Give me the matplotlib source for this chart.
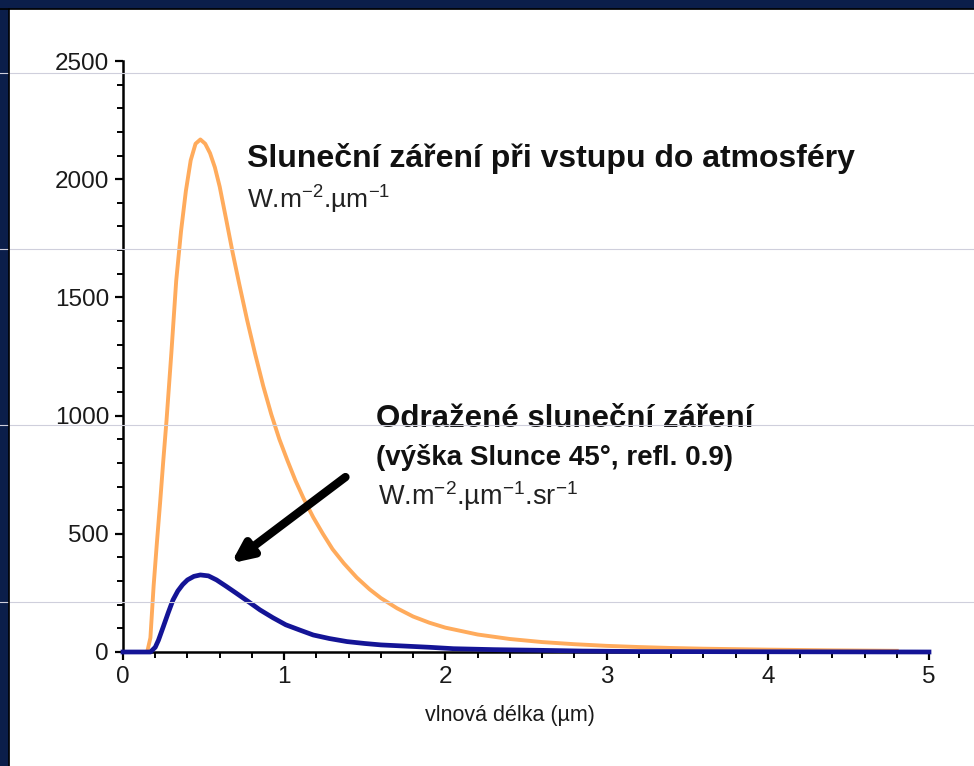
import numpy as np
import matplotlib.pyplot as plt
from matplotlib.lines import Line2D

plt.rcParams['font.family'] = ['Liberation Sans', 'DejaVu Sans']
plt.rcParams['mathtext.fontset'] = 'custom'
plt.rcParams['mathtext.rm'] = 'Liberation Sans'

# solar irradiance at top of atmosphere (W.m-2.um-1)
wl_sun = [0, 0.15, 0.17, 0.19, 0.21, 0.23, 0.25, 0.27, 0.30, 0.33, 0.36, 0.39,
          0.42, 0.45, 0.48, 0.51, 0.54, 0.57, 0.60, 0.64, 0.68, 0.72, 0.77,
          0.82, 0.87, 0.92, 0.97, 1.02, 1.07, 1.12, 1.18, 1.24, 1.3, 1.37,
          1.45, 1.53, 1.6, 1.7, 1.8, 1.9, 2.0, 2.2, 2.4, 2.6, 2.8, 3.0, 3.2,
          3.4, 3.6, 4.0, 4.4, 4.8]
irr_sun = [0, 0, 60, 280, 460, 630, 810, 980, 1265, 1570, 1780, 1950,
           2080, 2150, 2168, 2150, 2110, 2050, 1968, 1830, 1690, 1560, 1404,
           1260, 1125, 1005, 900, 810, 725, 650, 570, 500, 435, 375,
           315, 265, 228, 185, 150, 124, 103, 74, 55, 42, 33, 26, 21,
           17, 14, 10, 7, 5]

# reflected solar radiance (W.m-2.um-1.sr-1)
wl_refl = [0, 0.17, 0.2, 0.22, 0.25, 0.28, 0.31, 0.34, 0.37, 0.40, 0.44, 0.48,
           0.53, 0.58, 0.64, 0.7, 0.78, 0.85, 0.93, 1.01, 1.1, 1.18, 1.28,
           1.39, 1.5, 1.6, 1.75, 1.9, 2.05, 2.3, 2.6, 2.85, 3.2, 4.0, 5.0]
rad_refl = [0, 0, 20, 50, 107, 165, 220, 258, 285, 305, 320, 326,
            322, 305, 278, 250, 212, 178, 145, 115, 92, 72, 57,
            44, 36, 30, 25, 20, 14, 10, 7, 4, 2, 1, 0]

fig = plt.figure(figsize=(9.74, 7.66), dpi=100)

# slide frame: navy border top and left, faint guide lines
fig.patches.append(plt.Rectangle((0, 1 - 8 / 766), 1, 8 / 766, transform=fig.transFigure,
                                 color='#0b1e4a', zorder=0))
fig.patches.append(plt.Rectangle((0, 0), 8 / 974, 1, transform=fig.transFigure,
                                 color='#0b1e4a', zorder=0))
fig.lines.append(Line2D([0, 1], [1 - 9 / 766] * 2, transform=fig.transFigure, color='black', lw=1.2))
fig.lines.append(Line2D([9 / 974] * 2, [0, 1 - 9 / 766], transform=fig.transFigure, color='black', lw=1.2))
for yy in [73, 249, 425, 602]:
    fig.lines.append(Line2D([0, 1], [1 - yy / 766] * 2, transform=fig.transFigure,
                            color='#cfcfdc', lw=0.8, zorder=0.5))

ax = fig.add_axes([123 / 974, 1 - 652 / 766, (929 - 123) / 974, (652 - 61) / 766])
ax.patch.set_alpha(0)

ax.plot(wl_sun, irr_sun, color='#ffab5c', lw=2.8, clip_on=False, zorder=3,
        solid_joinstyle='round')
ax.plot(wl_refl, rad_refl, color='#141496', lw=3.4, clip_on=False, zorder=4,
        solid_joinstyle='round')

ax.set_xlim(0, 5)
ax.set_ylim(0, 2500)
ax.set_xticks(np.arange(0, 6, 1))
ax.set_xticks(np.arange(0, 5.01, 0.2), minor=True)
ax.set_yticks(np.arange(0, 2501, 500))
ax.set_yticks(np.arange(0, 2501, 100), minor=True)
for s in ['top', 'right']:
    ax.spines[s].set_visible(False)
for s in ['left', 'bottom']:
    ax.spines[s].set_linewidth(1.8)
ax.tick_params(which='major', direction='out', length=6, width=1.6, labelsize=17.5,
               pad=4, labelcolor='#1a1a1a')
ax.tick_params(which='minor', direction='out', length=4, width=1.4)
ax.set_xlabel('vlnová délka (µm)', fontsize=15.5, labelpad=12, x=0.48, color='#1a1a1a')

ax.text(0.77, 2050, 'Sluneční záření při vstupu do atmosféry', fontsize=23,
        fontweight='bold', color='#111111', va='baseline')
ax.text(0.77, 1880, r'W.m$^{\mathregular{-2}}$.µm$^{\mathregular{-1}}$', fontsize=19,
        color='#222222', va='baseline')
ax.text(1.57, 950, 'Odražené sluneční záření', fontsize=22.5,
        fontweight='bold', color='#111111', va='baseline')
ax.text(1.57, 790, '(výška Slunce 45°, refl. 0.9)', fontsize=20,
        fontweight='bold', color='#111111', va='baseline')
ax.text(1.58, 620, r'W.m$^{\mathregular{-2}}$.µm$^{\mathregular{-1}}$.sr$^{\mathregular{-1}}$',
        fontsize=19.5, color='#222222', va='baseline')

ax.annotate('', xy=(0.67, 375), xytext=(1.38, 740),
            arrowprops=dict(arrowstyle='-|>,head_length=1.2,head_width=0.55',
                            lw=6, color='black', shrinkA=0, shrinkB=0))

fig.savefig('out.png', dpi=100)
